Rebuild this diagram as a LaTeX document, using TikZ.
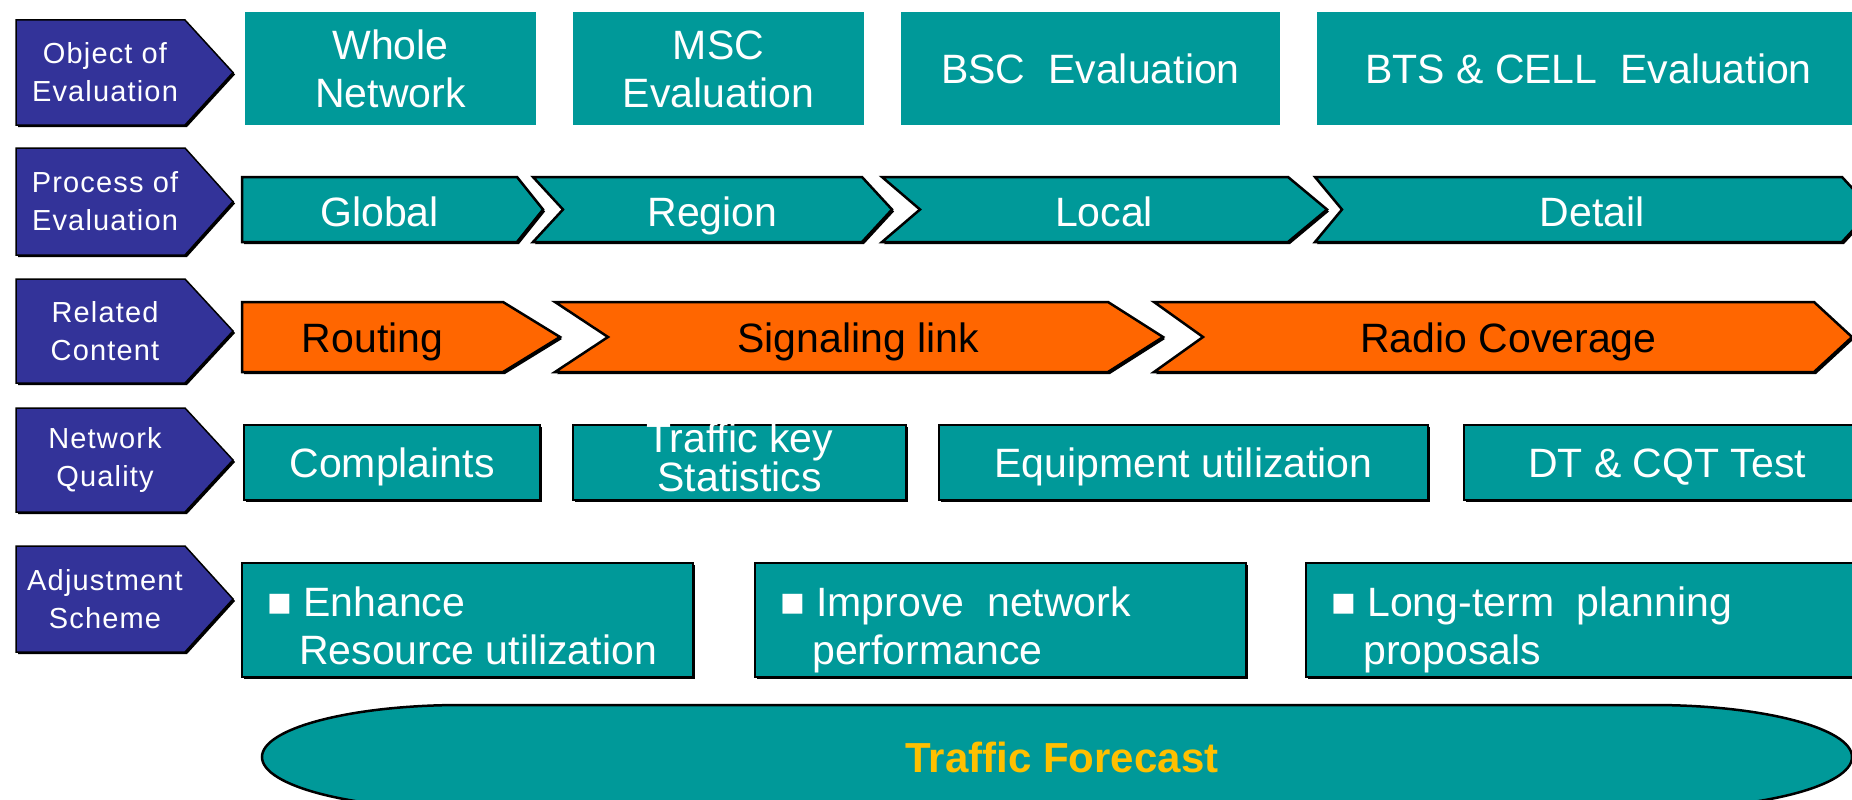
\documentclass[tikz,border=0pt]{standalone}
\usepackage{fontspec}
\setmainfont{Liberation Sans}
\usepackage{tikz}
\usetikzlibrary{shadows}
\definecolor{kpiteal}{RGB}{0,153,153}
\definecolor{kpipurple}{RGB}{51,51,153}
\definecolor{kpiorange}{RGB}{255,102,0}
\definecolor{kpigold}{RGB}{255,192,0}

\begin{document}
\begin{tikzpicture}[x=1pt,y=-1pt,
   shd/.style={drop shadow={shadow xshift=2pt,shadow yshift=-2pt,fill=black,opacity=1}},
   tag/.style={fill=kpipurple,draw=black,line width=1.5pt,shd},
   tagtxt/.style={text=white,align=center,font=\fontsize{29}{38}\selectfont\addfontfeature{LetterSpace=4}},
   stage/.style={fill=kpiteal,draw=black,line width=2.5pt,shd},
   topic/.style={fill=kpiorange,draw=black,line width=2.5pt,shd},
   wtxt/.style={text=white,align=center,font=\fontsize{41}{48}\selectfont},
   one/.style={text height=29.5pt,text depth=0pt},
   qtwo/.style={text=white,align=center,font=\fontsize{41}{36}\selectfont},
   btxt/.style={text=black,align=center,font=\fontsize{41}{48}\selectfont},
   ltxt/.style={text=white,align=left,anchor=north west,inner sep=0pt,text height=77.5pt,text depth=9pt,font=\fontsize{41}{48}\selectfont}]
\useasboundingbox (0,0) rectangle (1852,800);
\clip (0,0) rectangle (1852,800);
% row heads
\foreach \a/\b/\nm/\txt in %
{20/125/objh/{Object of\\Evaluation},148/255/proch/{Process of\\Evaluation},279/383/relh/{Related\\Content},408/512/qualh/{Network\\Quality},546/652/adjh/{Adjustment\\Scheme}} {
   \draw[tag] (16,\a) -- (185,\a) -- (233,{(\a+\b)/2}) -- (185,\b) -- (16,\b) -- cycle;
   \node[tagtxt] (\nm) at (105,{(\a+\b)/2}) {\txt};
}
% object of evaluation
\foreach \l/\r/\nm/\txt in %
{245/536/whole/{Whole\\Network},573/864/msc/{MSC\\Evaluation},901/1280/bsc/{BSC\ \ Evaluation},1317/1860/bts/{BTS \& CELL\ \ Evaluation}} {
   \fill[kpiteal] (\l,12) rectangle (\r,125);
   \node[wtxt] (\nm) at ({(\l+\r)/2},69) {\txt};
}
% process of evaluation
\foreach \l/\nl/\r/\p/\nm/\txt in %
{242/242/517/543/glob/Global,533/563/862/892/reg/Region,882/920/1288/1327/loc/Local,1315/1342/1842/1872/det/Detail} {
   \draw[stage] (\l,177) -- (\r,177) -- (\p,209.5) -- (\r,242) -- (\l,242) -- (\nl,209.5) -- cycle;
   \node[wtxt,one] (\nm) at ({(\nl+\r)/2},212) {\txt};
}
% related content
\foreach \l/\nl/\r/\p/\nm/\txt in %
{242/242/503/560/rout/Routing,555/608/1108/1163/sig/Signaling link,1154/1203/1814/1852/radio/Radio Coverage} {
   \draw[topic] (\l,302) -- (\r,302) -- (\p,337) -- (\r,372) -- (\l,372) -- (\nl,337) -- cycle;
   \node[btxt,one] (\nm) at ({(\nl+\r)/2},338) {\txt};
}
% network quality
\foreach \l/\r/\y/\st/\nm/\txt in %
{244/540/463/one/cmp/Complaints,573/906/457/qtwo/tks/{Traffic key\\Statistics},939/1428/463/one/equ/Equipment utilization,1464/1870/463/one/dtc/{DT \& CQT Test}} {
   \draw[stage] (\l,425) rectangle (\r,500);
   \node[wtxt,\st] (\nm) at ({(\l+\r)/2},\y) {\txt};
}
% adjustment scheme
\foreach \l/\r/\nm/\txt in %
{242/693/enh/{■ Enhance\\\hspace*{32pt}Resource utilization},755/1246/imp/{■ Improve\ \ network\\\hspace*{32pt}performance},1306/1870/plan/{■ Long-term\ \ planning\\\hspace*{32pt}proposals}} {
   \draw[stage] (\l,563) rectangle (\r,677);
   \node[ltxt] (\nm) at ({\l+25},587) {\txt};
}
\draw[fill=kpiteal,line width=2.5pt] (461,705) -- (1653,705)
   arc[start angle=-90,end angle=90,x radius=199,y radius=52] -- (461,809)
   arc[start angle=90,end angle=270,x radius=199,y radius=52] -- cycle;
\node[text=kpigold,font=\fontsize{42}{48}\selectfont\bfseries] (fc) at (1062,757) {Traffic Forecast};
\end{tikzpicture}
\end{document}
